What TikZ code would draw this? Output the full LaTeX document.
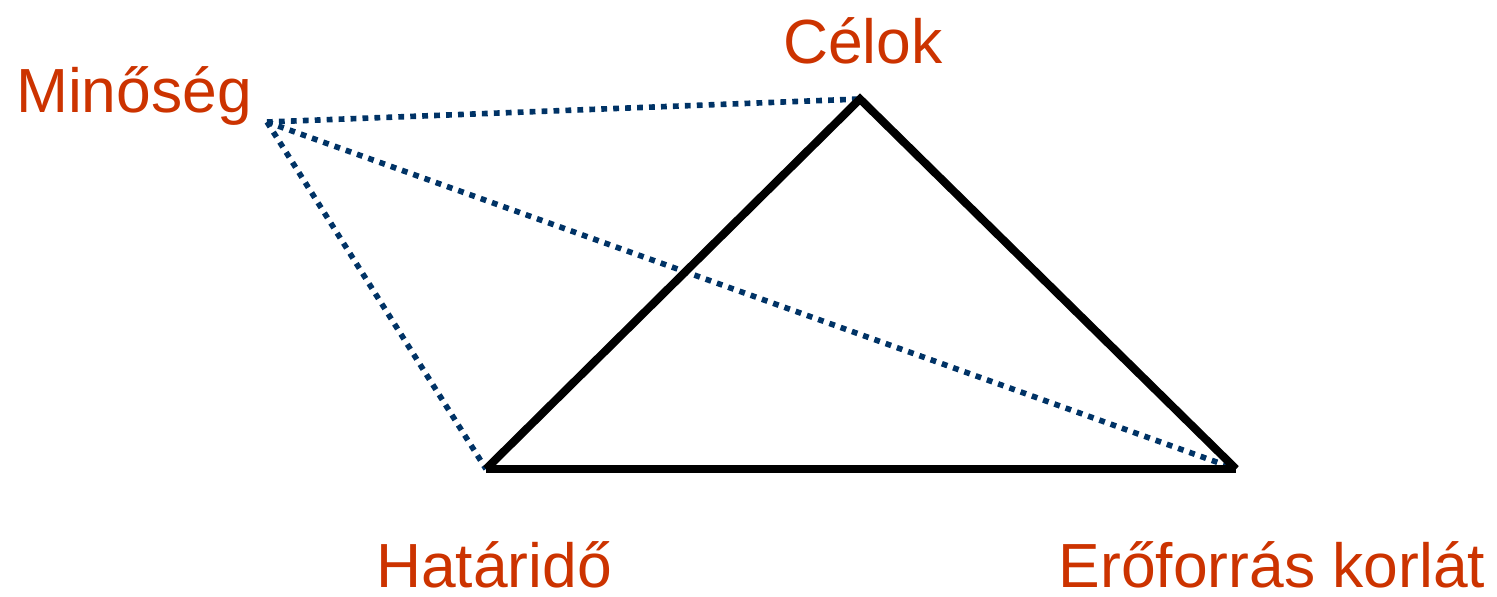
\documentclass[tikz,border=0pt]{standalone}
\usepackage{fontspec}
\setmainfont{Liberation Sans}
\usepackage{tikz}
\usetikzlibrary{calc}

\definecolor{labelred}{RGB}{204,51,0}
\definecolor{dotblue}{RGB}{0,51,102}

\begin{document}
\begin{tikzpicture}[x=0.02cm, y=-0.02cm,
        corner/.style={font=\fontsize{35.5}{40}\selectfont, text=labelred, anchor=base, inner sep=0pt},
        side/.style={line width=4.6pt, black, line join=miter},
        link/.style={line width=3.2pt, dotblue, dash pattern=on 3.3pt off 3.5pt}]
        % --- 1. Canvas ---
        \useasboundingbox (0,0) rectangle (1497,596);

        % --- 2. Corners ---
        \coordinate (Goal) at (860,99);
        \coordinate (Deadline) at (486,469);
        \coordinate (Resource) at (1236,469);
        \coordinate (Quality) at (267,122);

        % --- 3. Labels ---
        \node[corner] (goalLabel) at (863,63) {Célok};
        \node[corner] (qualityLabel) at (134,112) {Minőség};
        \node[corner] (deadlineLabel) at (494,587) {Határidő};
        \node[corner] (resourceLabel) at (1272,587) {Erőforrás korlát};

        % --- 4. Quality links (dotted) ---
        \draw[link] (Quality) -- (Goal);
        \draw[link] (Quality) -- (Deadline);
        \draw[link] (Quality) -- (Resource);

        % --- 5. Triangle ---
        \draw[side] (Deadline) -- (Goal) -- (Resource);
        \draw[side] (Deadline) -- (Resource);
    \end{tikzpicture}
\end{document}
